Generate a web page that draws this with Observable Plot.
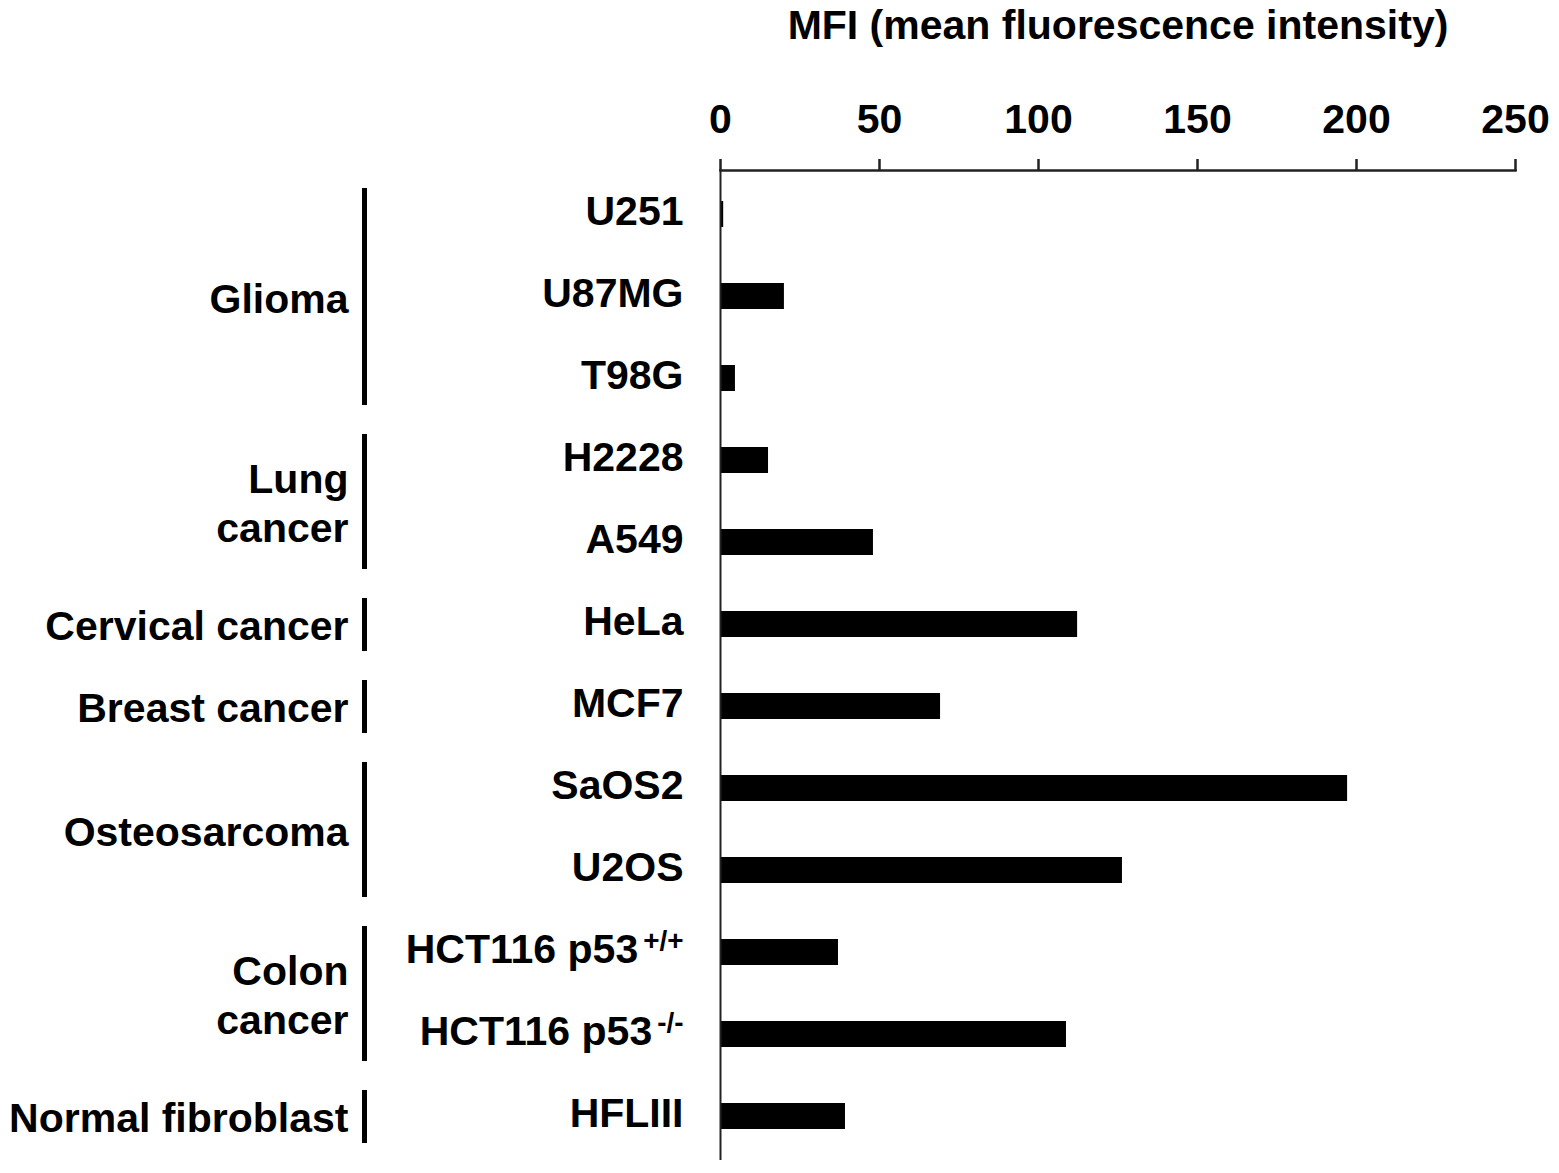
<!DOCTYPE html>
<html><head><meta charset="utf-8">
<script src="https://cdn.jsdelivr.net/npm/d3@7"></script>
<script src="https://cdn.jsdelivr.net/npm/@observablehq/plot@0.6"></script>
<style>
body{margin:0;background:#fff;}
#chart{width:1559px;height:1173px;}
</style></head><body><div id="chart"></div>
<script>
// Data
const cellLines = ["U251","U87MG","T98G","H2228","A549","HeLa","MCF7","SaOS2","U2OS","HCT116 p53+/+","HCT116 p53-/-","HFLIII"];
const cellBase  = ["U251","U87MG","T98G","H2228","A549","HeLa","MCF7","SaOS2","U2OS","HCT116 p53","HCT116 p53","HFLIII"];
const cellSup   = ["","","","","","","","","","+/+","-/-",""];
const mfi = [1, 20.1, 4.7, 15.1, 48.1, 112.3, 69.2, 197.2, 126.4, 37.1, 108.8, 39.3];
const groupNames = ["Glioma","Lung\ncancer","Cervical cancer","Breast cancer","Osteosarcoma","Colon\ncancer","Normal fibroblast"];
const groupFirst = ["U251","H2228","HeLa","MCF7","SaOS2","HCT116 p53+/+","HFLIII"];
const groupLast  = ["T98G","A549","HeLa","MCF7","U2OS","HCT116 p53-/-","HFLIII"];
const groupSize  = [3,2,1,1,2,2,1];
const xTicks = [0,50,100,150,200,250];
const xDomain = [0,250];
const xLabel = "MFI (mean fluorescence intensity)";

const rows = cellLines.map((c,i) => ({cell: c, mfi: mfi[i]}));
const groups = groupNames.map((g,i) => ({name: g, first: groupFirst[i], last: groupLast[i], size: groupSize[i]}));

const W = 1559, H = 1173, mT = 170, mB = 13;
const step = (H - mT - mB) / cellLines.length;

const plot = Plot.plot({
  width: W, height: H,
  marginLeft: 720, marginRight: 44, marginTop: mT, marginBottom: mB,
  style: {fontFamily: "'Liberation Sans', Arial, Helvetica, sans-serif", fontSize: "41px", fontWeight: "bold", color: "#000", background: "#fff"},
  x: {domain: xDomain},
  y: {domain: cellLines, padding: 0},
  marks: [
    Plot.barX(rows, {x: "mfi", y: "cell", fill: "#000", insetTop: 28, insetBottom: 28}),
    Plot.frame({anchor: "top", stroke: "#222", strokeWidth: 2.5}),
    Plot.ruleX([0], {stroke: "#222", strokeWidth: 2}),
    Plot.axisX({anchor: "top", ticks: xTicks, tickSize: 12, tickPadding: 26, strokeWidth: 2.5, stroke: "#222",
      label: xLabel, labelAnchor: "center", labelOffset: 161, labelArrow: "none"}),
    Plot.axisY({tickSize: 0, tickPadding: 37, dy: -3, tickFormat: (d) => cellBase[cellLines.indexOf(d)], label: null}),
    Plot.ruleX(groups, {x: 0, y1: "first", y2: "last", dx: -356, stroke: "#000", strokeWidth: 5, insetTop: 15, insetBottom: 14}),
    ...groups.map(g => Plot.text([g], {x: 0, y: "first", text: "name", dx: -372, dy: (g.size - 1) / 2 * step,
      textAnchor: "end", lineHeight: 1.2, fill: "#000"}))
  ]
});

// superscripts on cell labels
d3.select(plot).selectAll('g[aria-label="y-axis tick label"] text').each(function(d, i) {
  const s = cellSup[i];
  if (s) {
    d3.select(this).append("tspan").attr("dx", "5").attr("dy", "-0.45em").attr("font-size", "0.68em").text(s);
  }
});

document.getElementById("chart").appendChild(plot);
</script>
</body></html>
